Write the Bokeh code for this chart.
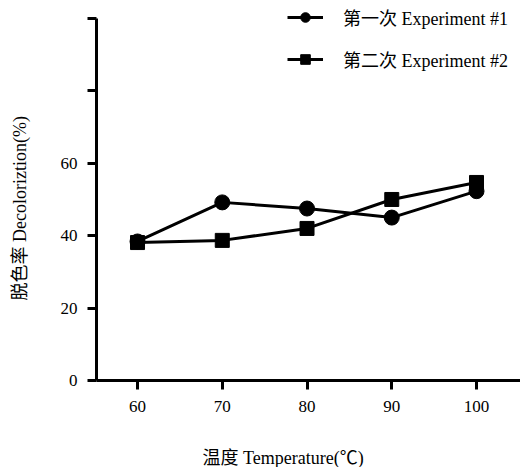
from bokeh.plotting import figure
from bokeh.models import Range1d, FixedTicker, Legend, LegendItem, Title
from bokeh.embed import file_html
from bokeh.resources import INLINE

temps = [60, 70, 80, 90, 100]
exp1 = [38.4, 49.2, 47.5, 45.0, 52.3]
exp2 = [38.1, 38.7, 42.0, 50.0, 54.7]
y_ticks = [0, 20, 40, 60, 80, 100]
y_tick_labels = {0: "0", 20: "20", 40: "40", 60: "60", 80: "", 100: ""}
x_ticks = [60, 70, 80, 90, 100]
series_names = ["第一次 Experiment #1", "第二次 Experiment #2"]
x_title = "温度 Temperature(℃)"
y_title = "脱色率 Decoloriztion(%)"

FONT = "'Liberation Serif', 'Noto Sans CJK SC'"

p = figure(width=520, height=467, output_backend="svg", toolbar_location=None,
           x_range=Range1d(55.16, 105.19), y_range=Range1d(0, 104.96),
           min_border_left=96, min_border_right=0, min_border_top=0, min_border_bottom=86)
p.outline_line_color = None
p.grid.visible = False
p.background_fill_color = "white"

for ax in (p.xaxis[0], p.yaxis[0]):
    ax.axis_line_width = 3
    ax.axis_line_color = "black"
    ax.major_tick_line_width = 3
    ax.major_tick_line_color = "black"
    ax.major_tick_out = 9
    ax.major_tick_in = 0
    ax.minor_tick_line_color = None
    ax.major_label_text_font = FONT
    ax.major_label_text_font_size = "17px"
    ax.major_label_text_color = "black"
    # zero-width spacer label that only reserves room between tick labels and title
    ax.axis_label = "\u200b"
    ax.axis_label_text_font_size = "1px"

p.xaxis[0].axis_label_standoff = 27
p.yaxis[0].axis_label_standoff = 24

p.xaxis[0].ticker = FixedTicker(ticks=x_ticks)
p.yaxis[0].ticker = FixedTicker(ticks=y_ticks)
p.yaxis[0].bounds = (0, 100)
p.yaxis[0].major_label_overrides = y_tick_labels
p.xaxis[0].major_label_standoff = 11
p.yaxis[0].major_label_standoff = 10

l1 = p.line(temps, exp1, line_width=3, line_color="black")
m1 = p.scatter(temps, exp1, marker="circle", size=15, fill_color="black", line_color="black")
l2 = p.line(temps, exp2, line_width=3, line_color="black")
m2 = p.scatter(temps, exp2, marker="square", size=14, fill_color="black", line_color="black")

legend = Legend(items=[LegendItem(label=series_names[0], renderers=[l1, m1]),
                       LegendItem(label=series_names[1], renderers=[l2, m2])],
                location=(191, 308), orientation="vertical",
                glyph_width=36, glyph_height=24, label_height=24, spacing=16,
                label_standoff=20, padding=0, margin=0,
                border_line_color=None, background_fill_alpha=0,
                label_text_font=FONT, label_text_font_size="18px", label_text_color="black")
p.add_layout(legend, "center")

p.add_layout(Title(text=x_title, align="left", offset=106, standoff=0,
                   text_font=FONT, text_font_size="18px", text_font_style="normal",
                   text_color="black"), "below")
p.add_layout(Title(text=y_title, align="left", offset=80, standoff=0,
                   text_font=FONT, text_font_size="18px", text_font_style="normal",
                   text_color="black"), "left")

open("out.html", "w").write(file_html(p, INLINE))
